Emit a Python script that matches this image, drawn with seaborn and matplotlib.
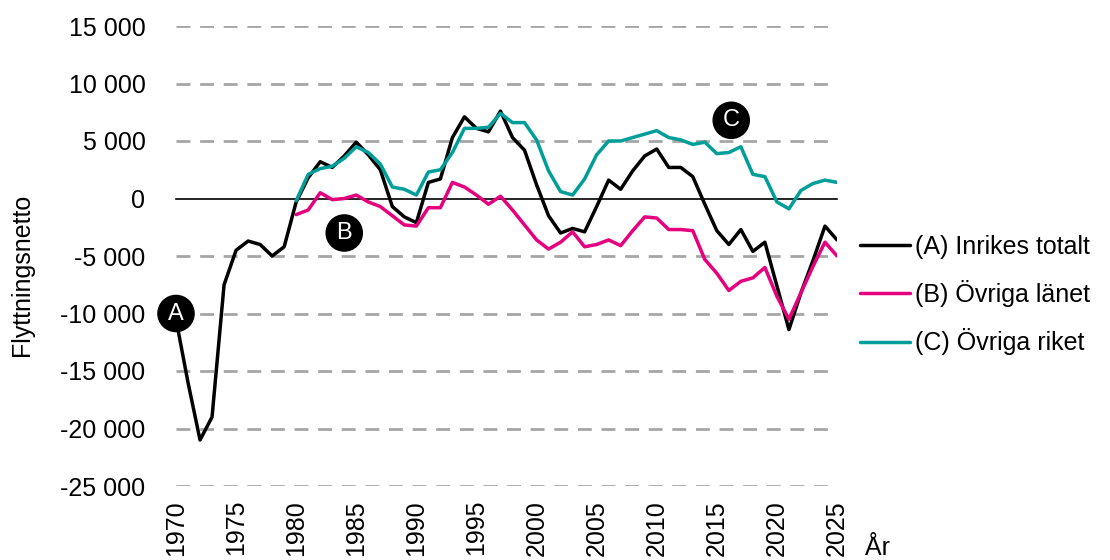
import pandas as pd
import numpy as np
import matplotlib
matplotlib.use("Agg")
import matplotlib.pyplot as plt
from matplotlib.ticker import FuncFormatter, MultipleLocator
import seaborn as sns

# Flyttningsnetto per år
years_a = list(range(1970, 2026))
inrikes_totalt = [-10500, -16000, -21000, -19000, -7500, -4500, -3700, -4000, -5000, -4200,
                  -300, 1800, 3200, 2700, 3700, 4900, 3800, 2500, -700, -1600,
                  -2100, 1400, 1700, 5300, 7100, 6100, 5800, 7600, 5300, 4200,
                  1200, -1500, -3000, -2600, -2900, -700, 1600, 800, 2400, 3700,
                  4300, 2700, 2700, 1900, -500, -2800, -4000, -2700, -4600, -3800,
                  -7600, -11400, -8200, -5400, -2400, -3600]

years_bc = list(range(1980, 2026))
ovriga_lanet = [-1400, -1000, 500, -100, 0, 300, -300, -700, -1500, -2300,
                -2400, -800, -800, 1400, 1000, 300, -500, 200, -1000, -2300,
                -3600, -4400, -3800, -2900, -4200, -4000, -3600, -4100, -2800, -1600,
                -1700, -2700, -2700, -2800, -5300, -6500, -8000, -7200, -6900, -6000,
                -8500, -10500, -8200, -5900, -3800, -5000]
ovriga_riket = [-200, 2100, 2600, 2800, 3500, 4500, 4000, 3000, 1000, 800,
                300, 2300, 2500, 4000, 6100, 6100, 6200, 7400, 6600, 6600,
                5100, 2400, 600, 300, 1700, 3800, 5000, 5000, 5300, 5600,
                5900, 5300, 5100, 4700, 4900, 3900, 4000, 4500, 2100, 1900,
                -300, -900, 700, 1300, 1600, 1400]

series_names = ["(A) Inrikes totalt", "(B) Övriga länet", "(C) Övriga riket"]
colors = ["#000000", "#e5007d", "#009e99"]

df = pd.concat([
    pd.DataFrame({"År": years_a, "Flyttningsnetto": inrikes_totalt, "Serie": series_names[0]}),
    pd.DataFrame({"År": years_bc, "Flyttningsnetto": ovriga_lanet, "Serie": series_names[1]}),
    pd.DataFrame({"År": years_bc, "Flyttningsnetto": ovriga_riket, "Serie": series_names[2]}),
])

sns.set_style("white")
plt.rcParams["font.family"] = ["Liberation Sans", "DejaVu Sans"]
plt.rcParams["text.color"] = "black"
plt.rcParams["axes.labelcolor"] = "black"

fig = plt.figure(figsize=(11.1, 5.6), dpi=100)
ax = fig.add_axes([176 / 1110, 1 - 486 / 560, (837 - 176) / 1110, (486 - 26) / 560])

# dashed gridlines behind the lines
for v in range(-25000, 15001, 5000):
    if v != 0:
        ax.axhline(v, color="#a6a6a6", lw=2, ls=(0, (5, 3.5)), zorder=0)

sns.lineplot(data=df, x="År", y="Flyttningsnetto", hue="Serie", palette=colors,
             hue_order=series_names, linewidth=2.5, ax=ax, zorder=3)
for line in ax.lines:
    line.set_solid_joinstyle("round")
    line.set_solid_capstyle("round")

ax.set_xlim(1970, 2025)
ax.set_ylim(-25000, 15000)
ax.yaxis.set_major_locator(MultipleLocator(5000))
ax.yaxis.set_major_formatter(FuncFormatter(lambda v, p: f"{int(v):,}".replace(",", " ")))
ax.tick_params(axis="y", length=0, labelsize=18, pad=22, labelcolor="black")

# x axis line at zero with tick marks, labels at the bottom
for s in ["top", "right", "left"]:
    ax.spines[s].set_visible(False)
ax.spines["bottom"].set_position(("data", 0))
ax.spines["bottom"].set_color("#000000")
ax.spines["bottom"].set_linewidth(1.2)
ax.set_xticks(range(1970, 2026, 5))
ax.tick_params(axis="x", direction="out", length=9, width=1.2, labelbottom=False)

sec = ax.secondary_xaxis("bottom")
sec.set_xticks(range(1970, 2026, 5))
sec.tick_params(axis="x", length=0, labelsize=18, rotation=90, pad=10, labelcolor="black")
sec.spines["bottom"].set_visible(False)

ax.set_xlabel("")
ax.set_ylabel("Flyttningsnetto", fontsize=18)
ax.yaxis.set_label_coords(-0.215, 0.46)
fig.text(865 / 1110, 1 - 548 / 560, "År", fontsize=18, va="center", ha="left")

# circled series labels
for letter, x, y in [("A", 1970, -10000), ("B", 1984, -3000), ("C", 2016.2, 6800)]:
    ax.text(x, y, letter, color="white", fontsize=17, ha="center", va="center", zorder=5,
            bbox=dict(boxstyle="circle,pad=0.3", fc="black", ec="black"))

handles, labels = ax.get_legend_handles_labels()
ax.legend(handles, labels, loc="center left", bbox_to_anchor=(860 / 1110, 1 - 295 / 560),
          bbox_transform=fig.transFigure, frameon=False, fontsize=18, handlelength=2.0,
          handletextpad=0.2, labelspacing=0.85, borderpad=0, borderaxespad=0)

fig.savefig("out.png", dpi=100)
